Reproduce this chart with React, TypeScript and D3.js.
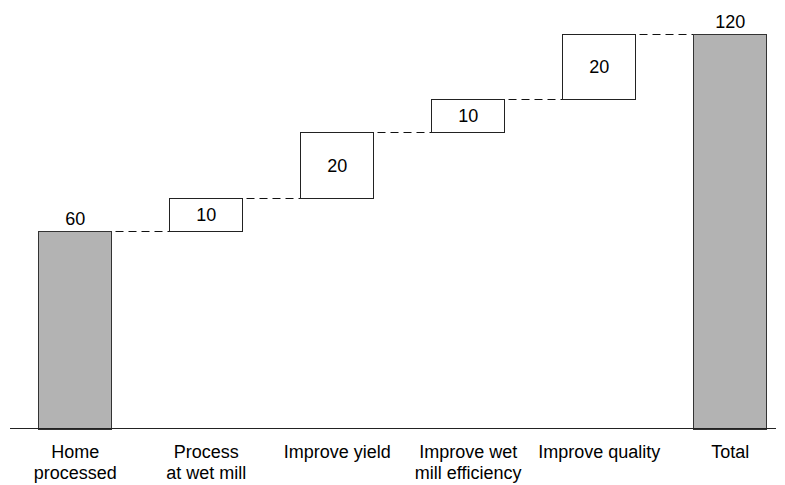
import React from "react";
import * as d3 from "d3";

const categories: string[][] = [
  ["Home", "processed"],
  ["Process", "at wet mill"],
  ["Improve yield"],
  ["Improve wet", "mill efficiency"],
  ["Improve quality"],
  ["Total"],
];
const values: number[] = [60, 10, 20, 10, 20, 120];
const isTotal: boolean[] = [true, false, false, false, false, true];

const W = 785;
const H = 485;
const baseY = 428.5;
const topY = 33;

export default function App() {
  const keys = categories.map((c) => c.join(" "));
  const x = d3
    .scaleBand<string>()
    .domain(keys)
    .range([9.5, 795.5])
    .paddingInner(0.44)
    .paddingOuter(0.22);
  const y = d3.scaleLinear().domain([0, 120]).range([baseY, topY + 0.5]);

  let running = 0;
  const bars = values.map((v, i) => {
    let lo: number, hi: number;
    if (isTotal[i]) {
      lo = 0;
      hi = v;
      running = v;
    } else {
      lo = running;
      hi = running + v;
      running = hi;
    }
    return { key: keys[i], lo, hi, v, total: isTotal[i], label: categories[i] };
  });

  const bw = x.bandwidth();
  const font = "'Liberation Sans', Arial, sans-serif";
  const fs = 18;

  return (
    <svg
      width={W}
      height={H}
      style={{ position: "absolute", left: 0, top: 0, background: "#fff" }}
    >
      {bars.map((b, i) => {
        const x0 = Math.round(x(b.key)!) + 0.5;
        const yt = Math.round(y(b.hi)) + 0.5;
        const yb = Math.round(y(b.lo)) + 0.5;
        return (
          <g key={b.key}>
            <rect
              x={x0}
              y={yt}
              width={Math.round(bw)}
              height={yb - yt}
              fill={b.total ? "#b3b3b3" : "#ffffff"}
              stroke={b.total ? "#333333" : "#222222"}
              strokeWidth={1}
            />
            {b.total ? (
              <text
                x={x0 + bw / 2}
                y={yt - 7}
                textAnchor="middle"
                fontFamily={font}
                fontSize={fs}
                fill="#000"
              >
                {b.v}
              </text>
            ) : (
              <text
                x={x0 + bw / 2}
                y={(yt + yb) / 2}
                dy="0.36em"
                textAnchor="middle"
                fontFamily={font}
                fontSize={fs}
                fill="#000"
              >
                {b.v}
              </text>
            )}
            {i < bars.length - 1 && (
              <line
                x1={x0 + Math.round(bw)}
                x2={Math.round(x(bars[i + 1].key)!) + 0.5}
                y1={yt}
                y2={yt}
                stroke="#111"
                strokeWidth={1}
                strokeDasharray="8,5"
                strokeDashoffset={9}
              />
            )}
            {b.label.map((t, j) => (
              <text
                key={j}
                x={x0 + bw / 2}
                y={458 + j * 21}
                textAnchor="middle"
                fontFamily={font}
                fontSize={fs}
                fill="#000"
              >
                {t}
              </text>
            ))}
          </g>
        );
      })}
      <line x1={10} x2={776} y1={baseY} y2={baseY} stroke="#222" strokeWidth={1} />
    </svg>
  );
}
